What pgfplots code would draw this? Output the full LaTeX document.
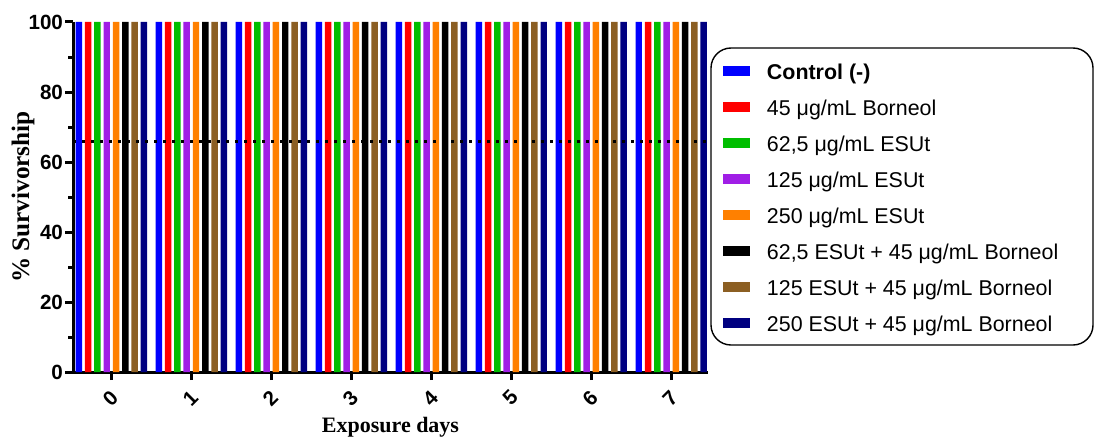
\documentclass[border=0pt]{standalone}
\usepackage{fontspec}
\setmainfont{Liberation Sans}
\newfontfamily\serifbf{Liberation Serif}
\usepackage{pgfplots}
\pgfplotsset{compat=1.18}
\definecolor{cBlue}{RGB}{0,0,255}
\definecolor{cRed}{RGB}{255,0,0}
\definecolor{cGreen}{RGB}{0,190,0}
\definecolor{cPurple}{RGB}{160,30,230}
\definecolor{cOrange}{RGB}{255,128,0}
\definecolor{cBlack}{RGB}{0,0,0}
\definecolor{cBrown}{RGB}{140,95,35}
\definecolor{cNavy}{RGB}{0,0,128}
\begin{document}
\begin{tikzpicture}
\path (-36.5pt,-33pt) rectangle (511pt,186pt);
\begin{axis}[
  at={(0,0)}, anchor=south west,
  scale only axis,
  width=317.5pt, height=175pt,
  xmin=-0.48, xmax=7.46,
  ymin=0, ymax=100,
  axis x line*=bottom, axis y line*=left,
  axis line style={line width=1.5pt,-},
  xtick={0,1,2,3,4,5,6,7},
  xticklabels={0,1,2,3,4,5,6,7},
  ytick={0,20,40,60,80,100},
  minor ytick={10,30,50,70,90},
  tick align=outside,
  major tick length=4pt,
  minor tick length=2.5pt,
  every tick/.style={line width=1.5pt, black},
  /pgf/number format/assume math mode=true,
  ticklabel style={font=\bfseries\fontsize{10.3}{12}\selectfont},
  yticklabel style={xshift=2.5pt},
  xticklabel style={anchor=center, xshift=-0.5pt, yshift=-9pt, rotate=45},
  ylabel={\serifbf\bfseries\fontsize{12.6}{14}\selectfont \% Survivorship},
  xlabel={\serifbf\bfseries\fontsize{11}{13}\selectfont Exposure days},
  every axis y label/.style={at={(axis description cs:-0.0787,0.5)}, rotate=90, anchor=center},
  every axis x label/.style={at={(axis description cs:0.5,-0.172)}, anchor=base},
  legend style={at={(1.0236,0.8806)}, anchor=north west, draw=none, fill=none,
    inner sep=0pt, outer sep=0pt,
    font=\fontsize{10.7}{12}\selectfont,
    nodes={inner sep=0pt, text height=8pt, text depth=2.5pt},
    row sep=7.45pt, column sep=8.5pt},
  legend cell align=left,
  legend image code/.code={\fill[#1] (0pt,-1pt) rectangle (13.5pt,4pt);},
  clip=false,
]
\addplot[ybar, bar width=0.081, bar shift=-0.406, fill=cBlue, draw=none] coordinates {(0,100) (1,100) (2,100) (3,100) (4,100) (5,100) (6,100) (7,100)};
\addlegendentry{\textbf{Control (-)}}
\addplot[ybar, bar width=0.081, bar shift=-0.290, fill=cRed, draw=none] coordinates {(0,100) (1,100) (2,100) (3,100) (4,100) (5,100) (6,100) (7,100)};
\addlegendentry{45 μg/mL Borneol}
\addplot[ybar, bar width=0.081, bar shift=-0.174, fill=cGreen, draw=none] coordinates {(0,100) (1,100) (2,100) (3,100) (4,100) (5,100) (6,100) (7,100)};
\addlegendentry{62,5 μg/mL ESUt}
\addplot[ybar, bar width=0.081, bar shift=-0.058, fill=cPurple, draw=none] coordinates {(0,100) (1,100) (2,100) (3,100) (4,100) (5,100) (6,100) (7,100)};
\addlegendentry{125 μg/mL ESUt}
\addplot[ybar, bar width=0.081, bar shift=0.058, fill=cOrange, draw=none] coordinates {(0,100) (1,100) (2,100) (3,100) (4,100) (5,100) (6,100) (7,100)};
\addlegendentry{250 μg/mL ESUt}
\addplot[ybar, bar width=0.081, bar shift=0.174, fill=cBlack, draw=none] coordinates {(0,100) (1,100) (2,100) (3,100) (4,100) (5,100) (6,100) (7,100)};
\addlegendentry{62,5 ESUt + 45 μg/mL Borneol}
\addplot[ybar, bar width=0.081, bar shift=0.290, fill=cBrown, draw=none] coordinates {(0,100) (1,100) (2,100) (3,100) (4,100) (5,100) (6,100) (7,100)};
\addlegendentry{125 ESUt + 45 μg/mL Borneol}
\addplot[ybar, bar width=0.081, bar shift=0.406, fill=cNavy, draw=none] coordinates {(0,100) (1,100) (2,100) (3,100) (4,100) (5,100) (6,100) (7,100)};
\addlegendentry{250 ESUt + 45 μg/mL Borneol}
\addplot[sharp plot, black, line width=1.5pt, dash pattern=on 1.5pt off 3pt, forget plot] coordinates {(-0.48,66) (7.46,66)};
\end{axis}
\draw[line width=0.7pt, rounded corners=10pt] (319pt,13.5pt) rectangle (510pt,162pt);
\end{tikzpicture}
\end{document}
